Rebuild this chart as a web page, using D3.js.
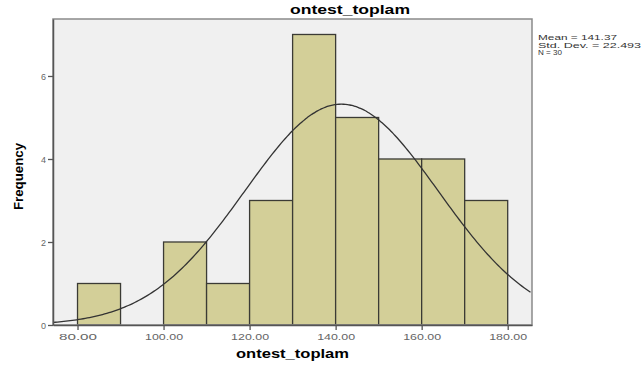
<!DOCTYPE html>
<html>
<head>
<meta charset="utf-8">
<script src="https://cdn.jsdelivr.net/npm/d3@7"></script>
<style>
  body { margin: 0; background: #fff; }
  svg { display: block; font-family: "Liberation Sans", Arial, sans-serif; }
</style>
</head>
<body>
<svg id="chart" width="641" height="368"></svg>
<script>
// histogram bins (lower edge) and counts
const binStarts = [80, 90, 100, 110, 120, 130, 140, 150, 160, 170];
const binWidth  = 10;
const counts    = [1, 0, 2, 1, 3, 7, 5, 4, 4, 3];
const xTicks    = [80, 100, 120, 140, 160, 180];
const yTicks    = [0, 2, 4, 6];
// summary stats shown at the right
const stats     = { mean: 141.37, sd: 22.493, n: 30 };
const statLines = ["Mean = 141.37", "Std. Dev. = 22.493", "N = 30"];

const svg = d3.select("#chart");
const margin = { left: 53, top: 19, right: 109, bottom: 43 },
      W = 641, H = 368;

const x = d3.scaleLinear().domain([74.3, 185.65]).range([margin.left, W - margin.right]);
const y = d3.scaleLinear().domain([0, 7.373]).range([H - margin.bottom, margin.top]);

// plot background
svg.append("rect")
  .attr("x", margin.left).attr("y", margin.top)
  .attr("width", x.range()[1] - margin.left)
  .attr("height", y.range()[0] - margin.top)
  .attr("fill", "#f0f0f0");

// bars
const bins = binStarts.map((b, i) => ({ x0: b, x1: b + binWidth, n: counts[i] }))
  .filter(d => d.n > 0);
svg.selectAll("rect.bar")
  .data(bins)
  .join("rect")
    .attr("class", "bar")
    .attr("x", d => x(d.x0))
    .attr("y", d => y(d.n))
    .attr("width", d => x(d.x1) - x(d.x0))
    .attr("height", d => y(0) - y(d.n))
    .attr("fill", "#d3cf98")
    .attr("stroke", "#3b3b35")
    .attr("stroke-width", 1.3);

// normal curve from the stated mean / sd, scaled to counts
const scaleN = stats.n * binWidth / (stats.sd * Math.sqrt(2 * Math.PI));
const curveX = d3.range(x.domain()[0], x.domain()[1] + 0.01, 0.5);
const line = d3.line()
  .x(v => x(v))
  .y(v => y(scaleN * Math.exp(-0.5 * ((v - stats.mean) / stats.sd) ** 2)))
  .curve(d3.curveBasis);
svg.append("path")
  .datum(curveX)
  .attr("d", line)
  .attr("fill", "none")
  .attr("stroke", "#333")
  .attr("stroke-width", 1.3);

// plot frame
svg.append("rect")
  .attr("x", margin.left).attr("y", margin.top)
  .attr("width", x.range()[1] - margin.left)
  .attr("height", y.range()[0] - margin.top)
  .attr("fill", "none")
  .attr("stroke", "#8a8a8a")
  .attr("stroke-width", 1.5);

// axes
const xAxis = svg.append("g")
  .attr("transform", `translate(0,${y(0)})`)
  .call(d3.axisBottom(x).tickValues(xTicks).tickFormat(d3.format(".2f")).tickSize(5).tickSizeOuter(0));
const yAxis = svg.append("g")
  .attr("transform", `translate(${margin.left},0)`)
  .call(d3.axisLeft(y).tickValues(yTicks).tickSize(5).tickSizeOuter(0));

[xAxis, yAxis].forEach(g => {
  g.select(".domain").attr("stroke", "#555").attr("stroke-width", 1.5);
  g.selectAll(".tick line").attr("stroke", "#555").attr("stroke-width", 1.3);
  g.selectAll(".tick text").attr("fill", "#666").style("font-size", "9px");
});
xAxis.selectAll(".tick text")
  .attr("dy", 0).attr("y", 15)
  .attr("textLength", 38).attr("lengthAdjust", "spacingAndGlyphs");
yAxis.selectAll(".tick text").attr("x", -7).attr("dy", "0.35em");

// title
svg.append("text")
  .attr("x", 350).attr("y", 14)
  .attr("text-anchor", "middle")
  .attr("textLength", 120).attr("lengthAdjust", "spacingAndGlyphs")
  .style("font-weight", "bold").style("font-size", "13px")
  .text("ontest_toplam");

// x label
svg.append("text")
  .attr("x", 292.5).attr("y", 358)
  .attr("text-anchor", "middle")
  .attr("textLength", 113).attr("lengthAdjust", "spacingAndGlyphs")
  .style("font-weight", "bold").style("font-size", "12px")
  .text("ontest_toplam");

// y label
svg.append("text")
  .attr("transform", "translate(23,176.5) rotate(-90)")
  .attr("text-anchor", "middle")
  .attr("textLength", 67).attr("lengthAdjust", "spacingAndGlyphs")
  .style("font-weight", "bold").style("font-size", "12px")
  .text("Frequency");

// stats text
svg.selectAll("text.stat")
  .data(statLines)
  .join("text")
    .attr("class", "stat")
    .attr("x", 538)
    .attr("y", (d, i) => 40 + i * 7.6)
    .style("font-size", "7.2px")
    .attr("fill", "#333")
    .attr("textLength", (d, i) => [79, 103, 24][i])
    .attr("lengthAdjust", "spacingAndGlyphs")
    .text(d => d);
</script>
</body>
</html>
